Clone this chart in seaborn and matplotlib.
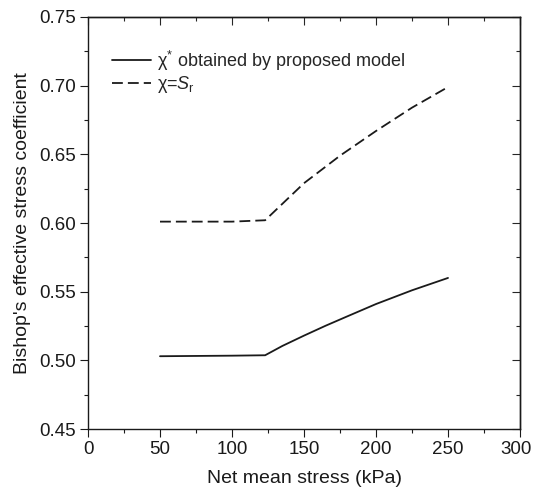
import numpy as np
import pandas as pd
import matplotlib
matplotlib.use("Agg")
import matplotlib.pyplot as plt
import matplotlib.transforms as mtransforms
import seaborn as sns
from matplotlib.ticker import MultipleLocator, FormatStrFormatter

# ---- data ----
x_model = [50, 75, 100, 123, 135, 150, 165, 180, 200, 225, 250]
y_model = [0.503, 0.5032, 0.5034, 0.5037, 0.5105, 0.518, 0.5252, 0.532, 0.541, 0.551, 0.560]

x_sr = [50, 75, 100, 123, 135, 150, 175, 200, 225, 250]
y_sr = [0.601, 0.601, 0.601, 0.602, 0.614, 0.629, 0.649, 0.667, 0.684, 0.699]

label_model = 'χ$^{*}$ obtained by proposed model'
label_sr = 'χ=$S_{\\mathrm{r}}$'

x_ticks = [0, 50, 100, 150, 200, 250, 300]
y_ticks = [0.45, 0.50, 0.55, 0.60, 0.65, 0.70, 0.75]

sns.set_style("ticks")
plt.rcParams['font.family'] = ['Liberation Sans', 'DejaVu Sans']
plt.rcParams['mathtext.fontset'] = 'custom'
plt.rcParams['mathtext.rm'] = 'Liberation Sans'
plt.rcParams['mathtext.it'] = 'Liberation Sans:italic'
plt.rcParams['mathtext.bf'] = 'Liberation Sans:bold'

df = pd.concat([
    pd.DataFrame({'x': x_model, 'y': y_model, 'series': label_model}),
    pd.DataFrame({'x': x_sr, 'y': y_sr, 'series': label_sr}),
])

fig = plt.figure(figsize=(5.34, 4.97), dpi=100)
ax = fig.add_axes([0.1648, 0.1368, 0.809, 0.829])

sns.lineplot(data=df, x='x', y='y', hue='series', style='series',
             palette={label_model: '#1a1a1a', label_sr: '#1a1a1a'},
             dashes={label_model: '', label_sr: (6, 2.8)},
             linewidth=1.3, ax=ax, legend=True, sort=False)

ax.set_xlim(0, 300)
ax.set_ylim(0.45, 0.75)
ax.set_xticks(x_ticks)
ax.set_yticks(y_ticks)
ax.yaxis.set_major_formatter(FormatStrFormatter('%.2f'))
ax.xaxis.set_minor_locator(MultipleLocator(25))
ax.yaxis.set_minor_locator(MultipleLocator(0.025))

for s in ax.spines.values():
    s.set_visible(True)
    s.set_linewidth(1.0)
    s.set_color('#1a1a1a')

ax.tick_params(which='major', direction='out', length=5.5, width=0.8,
               labelsize=13.5, colors='#1a1a1a', pad=3)
ax.tick_params(which='minor', direction='out', length=3, width=0.8, colors='#1a1a1a')

# mirrored ticks on top and right pointing inward
secx = ax.secondary_xaxis('top')
secx.set_xticks(x_ticks)
secx.xaxis.set_minor_locator(MultipleLocator(25))
secx.tick_params(which='major', direction='in', length=5.5, width=0.8, labeltop=False)
secx.tick_params(which='minor', direction='in', length=3, width=0.8)
secx.spines['top'].set_linewidth(1.0)
secy = ax.secondary_yaxis('right')
secy.set_yticks(y_ticks)
secy.yaxis.set_minor_locator(MultipleLocator(0.025))
secy.tick_params(which='major', direction='in', length=5.5, width=0.8, labelright=False)
secy.tick_params(which='minor', direction='in', length=3, width=0.8)
secy.spines['right'].set_linewidth(1.0)

# keep the last x tick label inside the figure
fig.canvas.draw()
last = ax.get_xticklabels()[-1]
last.set_transform(last.get_transform() +
                   mtransforms.ScaledTranslation(-4 / 100, 0, fig.dpi_scale_trans))

ax.set_xlabel('Net mean stress (kPa)', fontsize=14, color='#1a1a1a', labelpad=9)
ax.set_ylabel("Bishop's effective stress coefficient", fontsize=14, color='#1a1a1a', labelpad=6)

leg = ax.legend(loc='upper left', bbox_to_anchor=(0.017, 0.963), frameon=False,
                fontsize=13, handlelength=2.2, handletextpad=0.3, labelspacing=0.1)
for h in leg.get_lines():
    h.set_linewidth(1.3)

fig.savefig('out.png', dpi=100)
